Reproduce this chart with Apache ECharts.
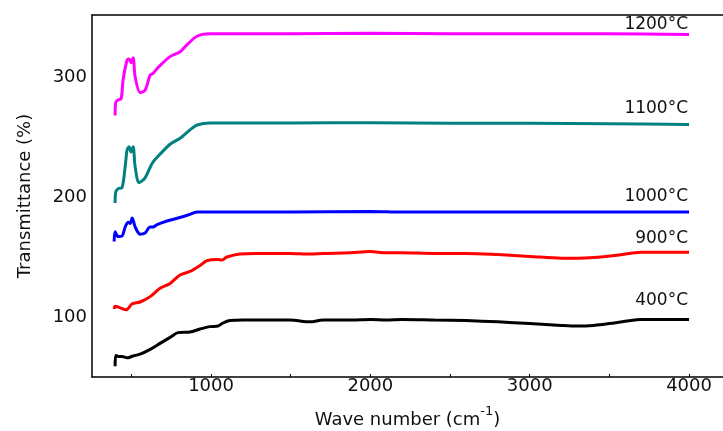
<!DOCTYPE html>
<html>
<head>
<meta charset="utf-8">
<script src="https://cdn.jsdelivr.net/npm/echarts@6/dist/echarts.min.js"></script>
<style>
  html, body { margin: 0; padding: 0; background: #fff; }
  #chart { width: 723px; height: 431px; }
</style>
</head>
<body>
<div id="chart"></div>
<script>
// FTIR spectra, offset curves
const xLabels = [1000, 2000, 3000, 4000];
const xTicks = [500, 1000, 1500, 2000, 2500, 3000, 3500, 4000];
const yLabels = [100, 200, 300];

const x400 = [398, 402, 420, 442, 473, 511, 555, 618, 680, 743, 793, 868, 931, 994, 1044, 1075, 1119, 1200, 1288, 1495, 1621, 1702, 1871, 2000, 2100, 2200, 2400, 2600, 2800, 3000, 3200, 3300, 3400, 3500, 3600, 3700, 3850, 4000];
const y400 = [59, 68, 67, 67, 66, 67.5, 69, 73, 78, 83, 87, 87.5, 90, 92, 92.5, 95, 97, 97.5, 97.5, 97.5, 96, 97.5, 97.5, 98, 97.5, 98, 97.5, 97, 96, 94.5, 93, 92.5, 93, 94.5, 96.5, 98, 98, 98];

const x900 = [392, 398, 423, 467, 505, 555, 618, 680, 743, 805, 868, 931, 975, 1038, 1069, 1100, 1181, 1288, 1495, 1621, 1702, 1871, 2000, 2100, 2200, 2400, 2600, 2800, 3000, 3200, 3300, 3400, 3550, 3700, 3850, 4000];
const y900 = [106.7, 109, 108, 106, 111, 112.5, 117, 124, 128, 135, 138, 143, 147, 148, 147.5, 150, 152.5, 153, 153, 152.5, 153, 153.5, 154.5, 153.5, 153.5, 153, 153, 152, 150.5, 149, 149, 149.5, 151.5, 154, 154, 154];

const x1000 = [392, 398, 417, 442, 461, 480, 492, 505, 524, 555, 586, 618, 636, 661, 724, 793, 856, 912, 994, 1495, 2000, 2200, 2500, 3000, 3500, 4000];
const y1000 = [163, 171, 167, 167.5, 175, 179, 178, 182.5, 175, 169, 170, 175, 175, 177, 180, 182.5, 185, 187.5, 187.5, 187.5, 188, 187.5, 187.5, 187.5, 187.5, 187.5];

const x1100 = [398, 402, 417, 442, 461, 473, 486, 498, 511, 524, 549, 586, 630, 661, 743, 806, 868, 912, 994, 1495, 2000, 2500, 3000, 3500, 4000];
const y1100 = [195, 204, 207, 208, 225, 239, 242, 237.5, 242, 225, 212, 216, 228, 233, 244, 249, 256, 260, 261.7, 261.7, 262, 261.5, 261.5, 261, 260.5];

const x1200 = [398, 402, 417, 436, 448, 473, 486, 498, 511, 524, 555, 586, 618, 636, 668, 743, 806, 850, 912, 994, 1495, 2000, 2500, 3000, 3500, 4000];
const y1200 = [268, 279, 281, 282, 297.5, 314, 315, 312, 316, 300, 287, 289, 301.7, 303, 308, 317, 321, 327, 334, 336, 336, 336.5, 336, 336, 336, 335.5];

const names = ['400°C', '900°C', '1000°C', '1100°C', '1200°C'];
const xs = [x400, x900, x1000, x1100, x1200];
const ys = [y400, y900, y1000, y1100, y1200];
const colors = ['#000000', '#ff0000', '#0000ff', '#008080', '#ff00ff'];
const labelLift = [-19, -14, -15, -16, -10];

const font = 'DejaVu Sans';
const chart = echarts.init(document.getElementById('chart'));

const series = names.map(function (n, i) {
  const pts = xs[i].map(function (x, j) { return [x, ys[i][j]]; });
  const last = pts[pts.length - 1];
  return {
    name: n,
    type: 'line',
    data: pts,
    showSymbol: false,
    smooth: 0.3,
    lineStyle: { color: colors[i], width: 3 },
    z: 3,
    markPoint: {
      symbolSize: 0,
      silent: true,
      data: [{ coord: last }],
      label: {
        show: true,
        formatter: n,
        position: [-1, labelLift[i]],
        align: 'right',
        verticalAlign: 'middle',
        color: '#111',
        fontSize: 17,
        fontFamily: font
      }
    }
  };
});

function plain(v) { return String(v); }

const option = {
  animation: false,
  grid: { left: 92, top: 15, right: 0, bottom: 54, containLabel: false, outerBoundsMode: 'none' },
  xAxis: [{
    type: 'value',
    min: 253,
    max: 4213,
    name: 'Wave number (cm{sup|-1})',
    nameLocation: 'middle',
    nameGap: 28,
    nameTextStyle: {
      fontSize: 18, fontFamily: font, color: '#111', lineHeight: 30,
      rich: { sup: { fontSize: 13, fontFamily: font, color: '#111', lineHeight: 14, verticalAlign: 'top' } }
    },
    axisLine: { lineStyle: { color: '#000', width: 1.5 } },
    axisTick: { show: true, inside: true, length: 3, customValues: xTicks, lineStyle: { color: '#000' } },
    axisLabel: { customValues: xLabels, formatter: plain, fontSize: 18, fontFamily: font, color: '#111', margin: 0 },
    splitLine: { show: false }
  }, {
    type: 'value',
    position: 'top',
    min: 253,
    max: 4213,
    axisLine: { show: true, lineStyle: { color: '#000', width: 1.5 } },
    axisTick: { show: false },
    axisLabel: { show: false },
    splitLine: { show: false }
  }],
  yAxis: {
    type: 'value',
    min: 50,
    max: 351.7,
    name: 'Transmittance (%)',
    nameLocation: 'middle',
    nameGap: 58,
    nameTextStyle: { fontSize: 18, fontFamily: font, color: '#111' },
    axisLine: { show: true, lineStyle: { color: '#000', width: 1.5 } },
    axisTick: { show: false },
    axisLabel: { customValues: yLabels, formatter: plain, fontSize: 18, fontFamily: font, color: '#111', margin: 5 },
    splitLine: { show: false }
  },
  series: series
};
chart.setOption(option);
</script>
</body>
</html>
